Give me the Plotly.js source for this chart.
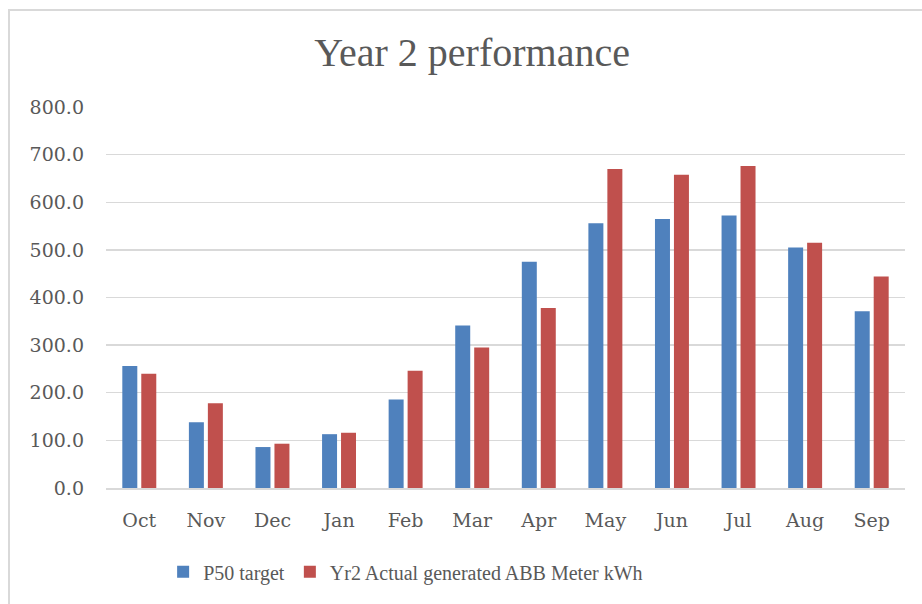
<!DOCTYPE html>
<html>
<head>
<meta charset="utf-8">
<script src="https://cdn.plot.ly/plotly-3.0.1.min.js"></script>
<style>
  html, body { margin: 0; padding: 0; background: #ffffff; overflow: hidden; }
  #frame { position: absolute; left: 8px; top: 9px; width: 1000px; height: 1000px;
           border-left: 2px solid #d9d9d9; border-top: 2px solid #d9d9d9; }
  #chart { position: absolute; left: 0; top: 0; width: 922px; height: 604px; }
</style>
</head>
<body>
<div id="frame"></div>
<div id="chart"></div>
<script>
const months = ["Oct", "Nov", "Dec", "Jan", "Feb", "Mar", "Apr", "May", "Jun", "Jul", "Aug", "Sep"];
const p50Target = [256, 138, 86, 113, 186, 341, 475, 556, 565, 572, 505, 371];
const yr2Actual = [240, 178, 93, 116, 246, 295, 378, 670, 658, 676, 515, 444];
const seriesNames = ["P50 target", "Yr2 Actual generated ABB Meter kWh"];
const yTicks = [0, 100, 200, 300, 400, 500, 600, 700, 800];

const textColor = "#595959";
const gridColor = "#d9d9d9";

const traces = [
  { type: "bar", name: seriesNames[0], x: months, y: p50Target,
    marker: { color: "#4f81bd", line: { width: 0 } }, hoverinfo: "x+y" },
  { type: "bar", name: seriesNames[1], x: months, y: yr2Actual,
    marker: { color: "#c0504d", line: { width: 0 } }, hoverinfo: "x+y" }
];

const layout = {
  width: 922, height: 604,
  paper_bgcolor: "rgba(0,0,0,0)",
  plot_bgcolor: "rgba(0,0,0,0)",
  margin: { l: 106, r: 17, t: 107, b: 116 },
  barmode: "group",
  bargap: 0.43,
  bargroupgap: 0.21,
  title: {
    text: "Year 2 performance",
    font: { family: "Liberation Serif, serif", size: 40, color: textColor },
    xref: "container", x: 0.512, xanchor: "center",
    yref: "container", y: 1 - 52 / 604, yanchor: "middle"
  },
  xaxis: {
    type: "category",
    showgrid: false,
    showline: true, linecolor: gridColor, linewidth: 2,
    ticks: "", ticklabelstandoff: 14,
    tickfont: { family: "DejaVu Serif, serif", size: 19, color: textColor },
    zeroline: false, fixedrange: true
  },
  yaxis: {
    range: [0, 800],
    tickvals: yTicks,
    tickformat: ".1f",
    showgrid: true, gridcolor: gridColor, gridwidth: 1.3,
    showline: false, zeroline: false,
    ticks: "", ticklabelstandoff: 21,
    tickfont: { family: "DejaVu Serif, serif", size: 19, color: textColor },
    fixedrange: true
  },
  showlegend: true,
  legend: {
    orientation: "h",
    x: 0.375, xanchor: "center",
    y: -0.22, yanchor: "middle",
    font: { family: "Liberation Serif, serif", size: 20, color: textColor },
    itemwidth: 30,
    traceorder: "normal",
    bgcolor: "rgba(0,0,0,0)"
  }
};

Plotly.newPlot("chart", traces, layout, { displayModeBar: false, staticPlot: true });
</script>
</body>
</html>
